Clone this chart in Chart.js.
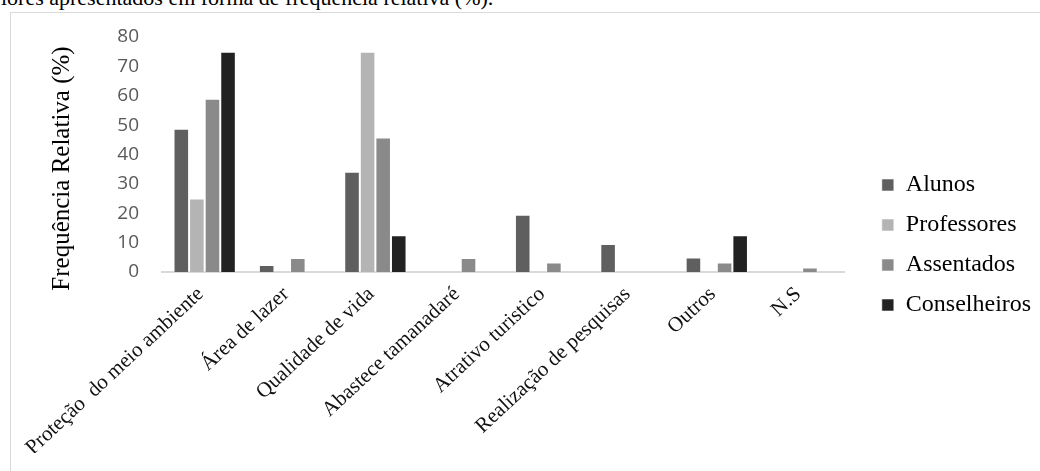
<!DOCTYPE html>
<html>
<head>
<meta charset="utf-8">
<script src="https://cdn.jsdelivr.net/npm/chart.js@4/dist/chart.umd.min.js"></script>
<style>
  html, body { margin: 0; padding: 0; background: #fff; }
  body { width: 1040px; height: 471px; overflow: hidden; position: relative; }
  #caption {
    position: absolute; left: 1px; top: -13px; white-space: nowrap;
    font: 22px/22px "Liberation Serif", "Times New Roman", serif; color: #000;
  }
  #frame {
    position: absolute; left: 10px; top: 12px; width: 1100px; height: 520px;
    border: 1.5px solid #d9d9d9;
  }
  #wrap { position: absolute; left: 0; top: 0; width: 1040px; height: 471px; }
</style>
</head>
<body>
<div id="caption">lores apresentados em forma de frequência relativa (%).</div>
<div id="frame"></div>
<div id="wrap"><canvas id="chart"></canvas></div>
<script>
/* Frequência relativa por categoria e grupo — gráfico de barras agrupadas. */

const categories = [
  'Proteção  do meio ambiente', 'Área de lazer', 'Qualidade de vida', 'Abastece tamanadaré',
  'Atrativo turistico', 'Realização de pesquisas', 'Outros', 'N.S',
];
const alunos       = [48.8, 2.4, 34.1, 0,   19.5, 9.5, 4.9, 0];
const professores  = [25,   0,   75,   0,   0,    0,   0,   0];
const assentados   = [59,   4.8, 45.8, 4.8, 3.2,  0,   3.2, 1.5];
const conselheiros = [75,   0,   12.5, 0,   0,    0,   12.5, 0];

const seriesNames = ['Alunos', 'Professores', 'Assentados', 'Conselheiros'];
const seriesColors = ['#5f5f5f', '#b4b4b4', '#8a8a8a', '#222222'];
const yMin = 0, yMax = 80, yStep = 10;
const yTitle = 'Frequência Relativa (%)';

const serif = '"Liberation Serif", "Times New Roman", serif';

const datasets = [alunos, professores, assentados, conselheiros].map((data, i) => ({
  label: seriesNames[i],
  data,
  backgroundColor: seriesColors[i],
  borderColor: 'rgba(255,255,255,0.55)',
  borderWidth: 1,
  categoryPercentage: 0.73,
  barPercentage: 1.0,
}));

// Axis title sits a little lower than the plot's middle in the original.
const yTitlePlugin = {
  id: 'yTitle',
  afterDraw(chart) {
    const { ctx, chartArea, scales } = chart;
    const x = scales.y.left + 22;
    const y = (chartArea.top + chartArea.bottom) / 2 + 14;
    ctx.save();
    ctx.translate(x, y);
    ctx.rotate(-Math.PI / 2);
    ctx.font = `25px ${serif}`;
    ctx.fillStyle = '#000';
    ctx.textAlign = 'center';
    ctx.textBaseline = 'middle';
    ctx.fillText(yTitle, 0, 0);
    ctx.restore();
  },
};

new Chart(document.getElementById('chart'), {
  type: 'bar',
  data: { labels: categories, datasets },
  plugins: [yTitlePlugin],
  options: {
    responsive: true,
    maintainAspectRatio: false,
    animation: false,
    devicePixelRatio: 1,
    layout: { padding: { left: 40, top: 37, right: 9, bottom: 18 } },
    plugins: {
      tooltip: { enabled: false },
      legend: {
        position: 'right',
        labels: {
          boxWidth: 12,
          boxHeight: 12,
          padding: 16,
          color: '#000',
          font: { family: serif, size: 24 },
        },
      },
    },
    scales: {
      x: {
        grid: { display: false, drawTicks: false },
        border: { display: true, color: '#d9d9d9', width: 2 },
        ticks: {
          color: '#111',
          font: { family: serif, size: 21 },
          maxRotation: 43,
          minRotation: 43,
          autoSkip: false,
          padding: 10,
          labelOffset: -4,
        },
        afterFit(s) { s.height = 181; },
      },
      y: {
        min: yMin,
        max: yMax,
        grid: { display: false, drawTicks: false },
        border: { display: false },
        ticks: {
          stepSize: yStep,
          color: '#595959',
          font: { family: '"Open Sans", sans-serif', size: 19 },
          padding: 23,
        },
        afterFit(s) { s.width = 122; },
      },
      // empty spacer between plot and legend
      gap: {
        type: 'linear',
        position: 'right',
        grid: { display: false },
        border: { display: false },
        ticks: { display: false },
        afterFit(s) { s.width = 21; },
      },
    },
  },
});
</script>
</body>
</html>
